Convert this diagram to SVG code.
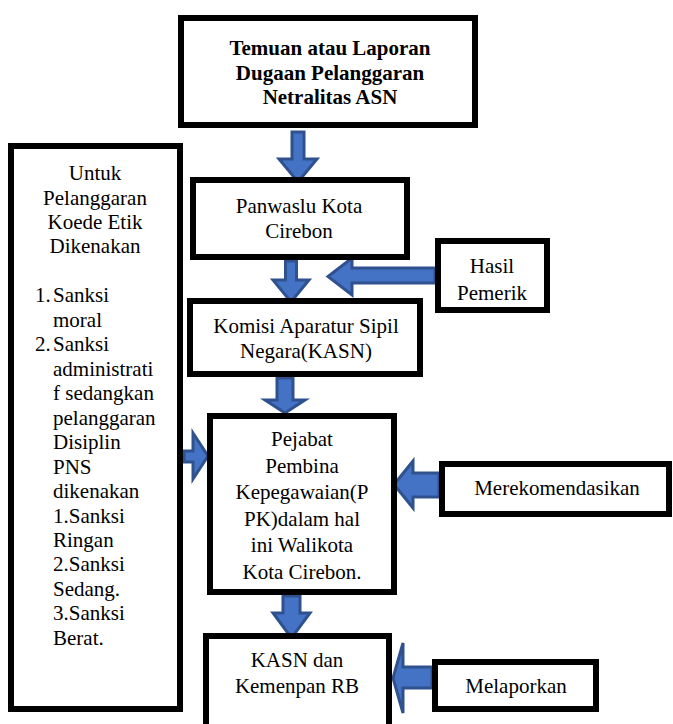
<svg xmlns="http://www.w3.org/2000/svg" width="673" height="724" viewBox="0 0 673 724">
<style>
.box{fill:#ffffff;stroke:#000000;stroke-width:6}
.t{font-family:'Liberation Serif','Tinos','DejaVu Serif',serif;font-size:21px;fill:#000000}
.c{text-anchor:middle}
.b{font-weight:bold}
.arr{fill:#4472C4;stroke:#2F528F;stroke-width:3;stroke-linejoin:miter}
</style>
<rect width="673" height="724" fill="#ffffff"/>
<g id="connectors">
<polygon class="arr" points="292,132 304,132 304,159 317,159 298,182 279,159 292,159"/>
<polygon class="arr" points="285.5,261 296.5,261 296.5,280 309,280 291,302 273,280 285.5,280"/>
<polygon class="arr" points="435,268 352,268 352,258 328,276.5 352,295 352,283 435,283"/>
<polygon class="arr" points="277,378 293,378 293,400 305,400 285,413 265,400 277,400"/>
<polygon class="arr" points="184,451 193,451 193,433 208,456 193,479 193,462 184,462"/>
<polygon class="arr" points="439,473 413,473 413,461 394,484.5 413,508 413,497 439,497"/>
<polygon class="arr" points="283,596 300,596 300,613 310,613 291.5,638 273,613 283,613"/>
<polygon class="arr" points="432,667 403,667 403,643 393,678 403,713 403,688 432,688"/>
</g>
<g id="temuan">
<rect class="box" x="181" y="18" width="294" height="107"/>
<text class="t c b" x="330" y="55">Temuan atau Laporan</text>
<text class="t c b" x="330" y="80">Dugaan Pelanggaran</text>
<text class="t c b" x="330" y="104">Netralitas ASN</text>
</g>
<g id="sanksi">
<rect class="box" x="11" y="146" width="169" height="563"/>
<text class="t c" x="95" y="180">Untuk</text>
<text class="t c" x="95" y="204.5">Pelanggaran</text>
<text class="t c" x="95" y="229">Koede Etik</text>
<text class="t c" x="95" y="253.4">Dikenakan</text>
<text class="t" x="35" y="302.3">1.</text>
<text class="t" x="53" y="302.3">Sanksi</text>
<text class="t" x="53" y="326.8">moral</text>
<text class="t" x="35" y="351.2">2.</text>
<text class="t" x="53" y="351.2">Sanksi</text>
<text class="t" x="53" y="375.7">administrati</text>
<text class="t" x="53" y="400.2">f sedangkan</text>
<text class="t" x="53" y="424.6">pelanggaran</text>
<text class="t" x="53" y="449.1">Disiplin</text>
<text class="t" x="53" y="473.6">PNS</text>
<text class="t" x="53" y="498">dikenakan</text>
<text class="t" x="53" y="522.5">1.Sanksi</text>
<text class="t" x="53" y="547">Ringan</text>
<text class="t" x="53" y="571.4">2.Sanksi</text>
<text class="t" x="53" y="595.9">Sedang.</text>
<text class="t" x="53" y="620.4">3.Sanksi</text>
<text class="t" x="53" y="644.8">Berat.</text>
</g>
<g id="panwaslu">
<rect class="box" x="193" y="180" width="214" height="77"/>
<text class="t c" x="299" y="213">Panwaslu Kota</text>
<text class="t c" x="299" y="238">Cirebon</text>
</g>
<g id="hasil">
<rect class="box" x="438" y="241" width="109" height="69"/>
<text class="t c" x="492" y="273">Hasil</text>
<text class="t c" x="492" y="300">Pemerik</text>
</g>
<g id="kasn-komisi">
<rect class="box" x="190" y="301" width="230" height="73"/>
<text class="t c" x="306" y="333">Komisi Aparatur Sipil</text>
<text class="t c" x="306" y="358">Negara(KASN)</text>
</g>
<g id="ppk">
<rect class="box" x="210" y="416" width="184" height="176"/>
<text class="t c" x="302" y="446">Pejabat</text>
<text class="t c" x="302" y="472.6">Pembina</text>
<text class="t c" x="302" y="499.2">Kepegawaian(P</text>
<text class="t c" x="302" y="525.8">PK)dalam hal</text>
<text class="t c" x="302" y="552.4">ini Walikota</text>
<text class="t c" x="302" y="579">Kota Cirebon.</text>
</g>
<g id="merekomendasikan">
<rect class="box" x="442" y="464" width="227" height="50"/>
<text class="t c" x="557" y="495">Merekomendasikan</text>
</g>
<g id="kasn-kemenpan">
<rect class="box" x="206" y="636" width="183" height="100"/>
<text class="t c" x="297" y="667">KASN dan</text>
<text class="t c" x="297" y="693">Kemenpan RB</text>
</g>
<g id="melaporkan">
<rect class="box" x="435" y="662" width="161" height="47"/>
<text class="t c" x="516" y="693">Melaporkan</text>
</g>
</svg>
